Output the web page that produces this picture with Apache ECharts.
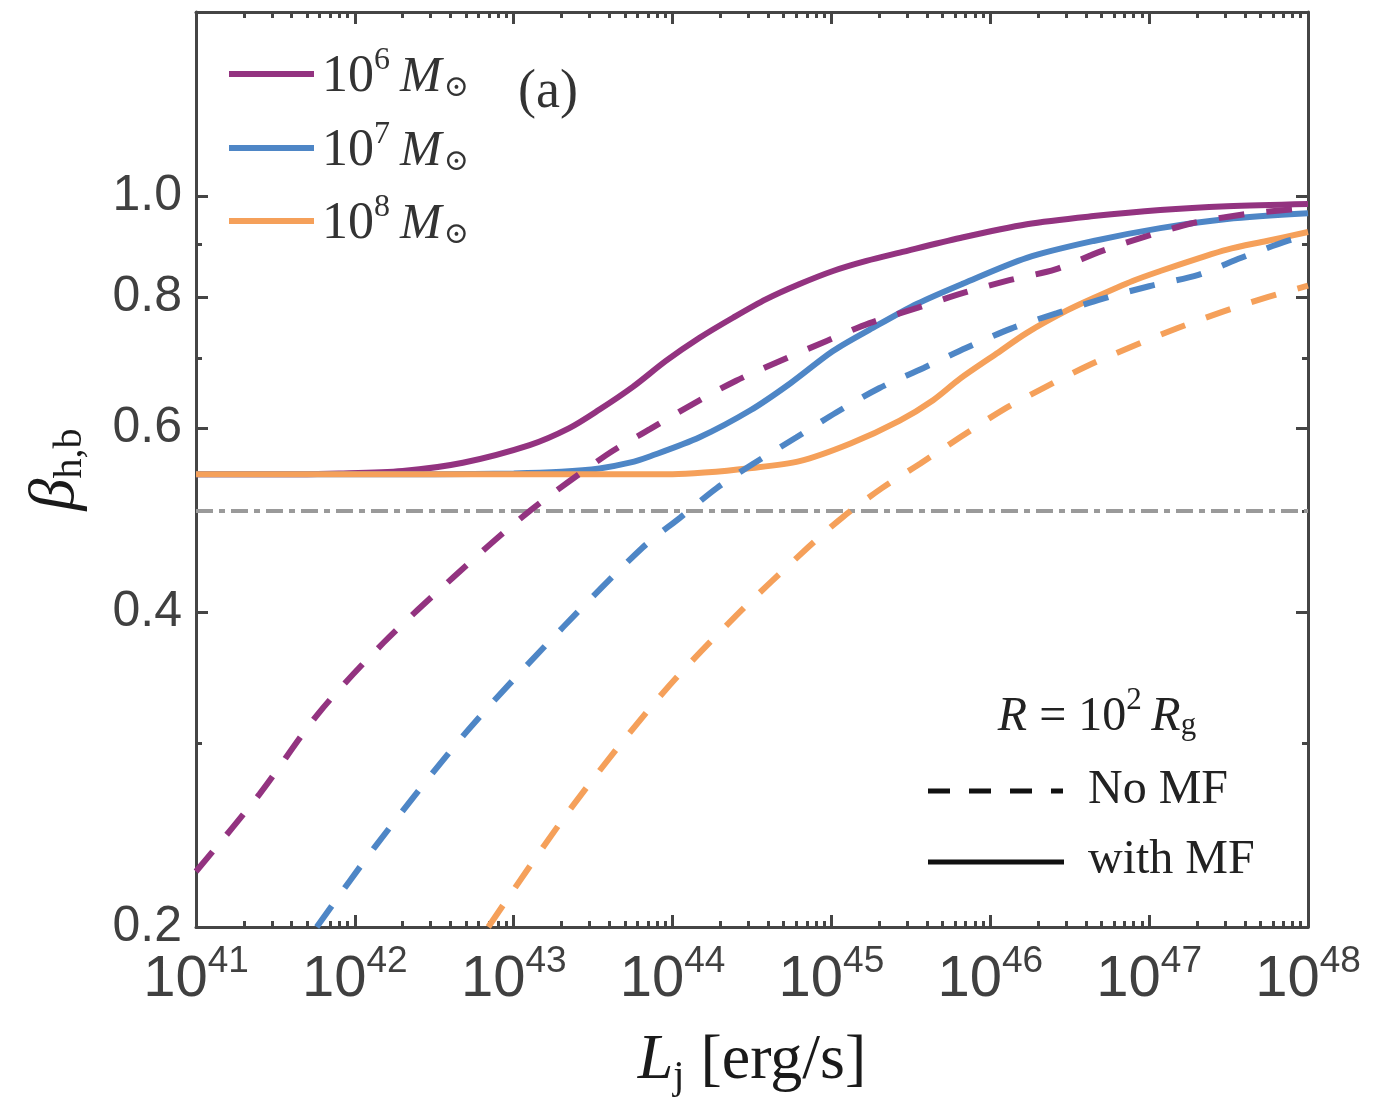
<!DOCTYPE html>
<html>
<head>
<meta charset="utf-8">
<script src="https://cdn.jsdelivr.net/npm/echarts@6/dist/echarts.min.js"></script>
<style>
  html, body { margin: 0; padding: 0; background: #fff; }
  #chart { width: 1382px; height: 1110px; }
</style>
</head>
<body>
<div id="chart"></div>
<script>
// x values are log10(L_j / erg s^-1), y values are beta_h,b
const m6SolidL = [41.0, 41.5, 41.9, 42.3, 42.68, 43.1, 43.35, 43.54, 43.75, 43.96, 44.17, 44.38, 44.59, 44.80, 45.01, 45.22, 45.43, 45.81, 46.23, 46.65, 47.07, 47.49, 48.0];
const m6SolidB = [0.542, 0.542, 0.543, 0.546, 0.556, 0.578, 0.600, 0.625, 0.657, 0.696, 0.732, 0.765, 0.797, 0.824, 0.848, 0.867, 0.883, 0.912, 0.940, 0.957, 0.970, 0.978, 0.983];

const m6DashL = [41.0, 41.40, 41.77, 42.18, 42.62, 43.08, 43.58, 43.86, 44.13, 44.40, 44.68, 44.97, 45.24, 45.54, 45.83, 46.12, 46.41, 46.70, 46.98, 47.27, 47.58, 47.89, 48.0];
const m6DashB = [0.226, 0.268, 0.320, 0.374, 0.432, 0.497, 0.565, 0.599, 0.633, 0.666, 0.696, 0.727, 0.756, 0.782, 0.808, 0.831, 0.851, 0.886, 0.915, 0.942, 0.960, 0.971, 0.974];

const m7SolidL = [41.0, 42.0, 42.5, 43.0, 43.3, 43.54, 43.73, 43.86, 44.17, 44.49, 44.74, 45.01, 45.26, 45.54, 45.83, 46.23, 46.65, 47.07, 47.49, 48.0];
const m7SolidB = [0.542, 0.542, 0.542, 0.543, 0.545, 0.549, 0.556, 0.564, 0.588, 0.624, 0.662, 0.711, 0.748, 0.789, 0.825, 0.873, 0.906, 0.932, 0.951, 0.963];

const m7DashL = [41.76, 42.13, 42.70, 43.31, 43.81, 44.05, 44.28, 44.51, 44.78, 45.03, 45.30, 45.58, 45.85, 46.13, 46.42, 46.71, 47.00, 47.31, 47.58, 47.87, 48.0];
const m7DashB = [0.200, 0.239, 0.307, 0.387, 0.461, 0.493, 0.526, 0.555, 0.588, 0.621, 0.655, 0.685, 0.716, 0.747, 0.773, 0.798, 0.820, 0.841, 0.873, 0.906, 0.916];

const m8SolidL = [41.0, 42.0, 43.0, 43.6, 44.0, 44.2, 44.47, 44.80, 45.12, 45.43, 45.64, 45.81, 46.04, 46.23, 46.48, 46.65, 46.90, 47.07, 47.32, 47.49, 47.74, 48.0];
const m8SolidB = [0.542, 0.542, 0.542, 0.542, 0.542, 0.544, 0.549, 0.558, 0.580, 0.610, 0.638, 0.669, 0.707, 0.740, 0.777, 0.799, 0.830, 0.848, 0.873, 0.889, 0.906, 0.924];

const m8DashL = [42.84, 43.37, 43.94, 44.40, 44.85, 45.07, 45.32, 45.56, 45.81, 46.09, 46.34, 46.61, 46.90, 47.18, 47.46, 47.75, 48.0];
const m8DashB = [0.200, 0.261, 0.335, 0.397, 0.461, 0.493, 0.526, 0.555, 0.588, 0.626, 0.656, 0.688, 0.719, 0.748, 0.775, 0.801, 0.821];

// horizontal reference line beta = 0.5
const refL = [41, 48];
const refB = [0.5, 0.5];

const massExponents = ['6', '7', '8'];
const xTickExponents = [41, 42, 43, 44, 45, 46, 47, 48];
const xMinorFactors = [2, 3, 4, 5, 6, 7, 8, 9];
const yTickValues = [0.2, 0.4, 0.6, 0.8, 1.0];
const yMinorValues = [0.3, 0.5, 0.7, 0.9];
const yMin = 0.2;
const yMax = 1.5;

const purple = '#933380';
const blue = '#4e86c6';
const orange = '#f5a05a';
const gray = '#9a9a9a';
const axisColor = '#454545';
const sans = '"Liberation Sans", Arial, sans-serif';
const serif = '"Liberation Serif", "DejaVu Serif", serif';

const xMinor = [];
xTickExponents.slice(0, -1).forEach(n => {
    xMinorFactors.forEach(k => xMinor.push(n + Math.log10(k)));
});
const yMajorLog = yTickValues.map(v => Math.log10(v));
const yMinorLog = yMinorValues.map(v => Math.log10(v));

function toPoints(ls, bs) {
    return ls.map((l, i) => [l, Math.log10(bs[i])]);
}

function curve(ls, bs, color, dashed, z) {
    return {
        type: 'line',
        data: toPoints(ls, bs),
        symbol: 'none',
        smooth: 0.3,
        silent: true,
        z: z,
        lineStyle: { color: color, width: 6, type: dashed ? [26, 22] : 'solid', cap: 'butt' }
    };
}

const chart = echarts.init(document.getElementById('chart'));

const tickStyle = { color: axisColor, width: 3 };
function xAxisDef(position, minor, labels) {
    const a = {
        type: 'value', min: 41, max: 48, position: position,
        axisLine: { show: !minor, onZero: false, lineStyle: { color: axisColor, width: 3 } },
        axisTick: minor
            ? { inside: true, length: 6, customValues: xMinor, lineStyle: tickStyle }
            : { inside: true, length: 12, lineStyle: tickStyle },
        splitLine: { show: false },
        axisLabel: { show: false }
    };
    if (!minor) a.interval = 1;
    if (labels) {
        a.axisLabel = {
            show: true, margin: 16,
            formatter: v => '{b|10}{s|' + v + '}',
            rich: {
                b: { fontFamily: sans, fontSize: 58, color: '#404040', lineHeight: 66, verticalAlign: 'bottom' },
                s: { fontFamily: sans, fontSize: 37, color: '#404040', lineHeight: 40, verticalAlign: 'top' }
            }
        };
        a.name = '{l|L}{j|j}{r| [erg/s]}';
        a.nameLocation = 'middle';
        a.nameGap = 102;
        a.nameTextStyle = {
            rich: {
                l: { fontFamily: serif, fontStyle: 'italic', fontSize: 64, color: '#1a1a1a', lineHeight: 68, verticalAlign: 'top' },
                j: { fontFamily: serif, fontSize: 40, color: '#1a1a1a', lineHeight: 42, verticalAlign: 'bottom' },
                r: { fontFamily: serif, fontSize: 64, color: '#1a1a1a', lineHeight: 68, verticalAlign: 'top' }
            }
        };
    }
    return a;
}

function yAxisDef(position, minor, labels) {
    const a = {
        type: 'value', min: Math.log10(yMin), max: Math.log10(yMax), position: position,
        axisLine: { show: !minor, onZero: false, lineStyle: { color: axisColor, width: 3 } },
        axisTick: { inside: true, length: minor ? 6 : 12, customValues: minor ? yMinorLog : yMajorLog, lineStyle: tickStyle },
        splitLine: { show: false },
        axisLabel: { show: false }
    };
    if (labels) {
        a.axisLabel = {
            show: true, margin: 14, customValues: yMajorLog,
            formatter: v => Math.pow(10, v).toFixed(1),
            fontFamily: sans, fontSize: 50, color: '#404040'
        };
        a.name = '{b|β}{s|h,b}';
        a.nameLocation = 'middle';
        a.nameGap = 106;
        a.nameTextStyle = {
            rich: {
                b: { fontFamily: serif, fontStyle: 'italic', fontSize: 64, color: '#1a1a1a', lineHeight: 66, verticalAlign: 'top' },
                s: { fontFamily: serif, fontSize: 40, color: '#1a1a1a', lineHeight: 42, verticalAlign: 'bottom' }
            }
        };
    }
    return a;
}

function massLegend(y, color, exp) {
    return [
        { type: 'line', shape: { x1: 229, y1: y, x2: 314, y2: y }, style: { stroke: color, lineWidth: 6 } },
        {
            type: 'text', x: 322, y: y,
            style: {
                text: '{n|10}{p|' + exp + '}{m|\u2009M}{o|⊙}',
                verticalAlign: 'middle',
                rich: {
                    n: { fontFamily: serif, fontSize: 52, fill: '#333', lineHeight: 58, verticalAlign: 'bottom' },
                    p: { fontFamily: serif, fontSize: 32, fill: '#333', lineHeight: 34, verticalAlign: 'top' },
                    m: { fontFamily: serif, fontStyle: 'italic', fontSize: 50, fill: '#333', lineHeight: 58, verticalAlign: 'bottom' },
                    o: { fontFamily: serif, fontSize: 30, fill: '#333', lineHeight: 30, verticalAlign: 'bottom', padding: [0, 0, 0, 2] }
                }
            }
        }
    ];
}

const graphic = [].concat(
    massLegend(74, purple, massExponents[0]),
    massLegend(148, blue, massExponents[1]),
    massLegend(221, orange, massExponents[2]),
    [
        { type: 'text', x: 548, y: 93, style: { text: '(a)', font: '54px ' + serif, fill: '#333', align: 'center', verticalAlign: 'middle' } },
        {
            type: 'text', x: 1097, y: 713,
            style: {
                text: '{i|R}{t| = 10}{p|2}{i|\u2009R}{g|g}',
                align: 'center', verticalAlign: 'middle',
                rich: {
                    i: { fontFamily: serif, fontStyle: 'italic', fontSize: 48, fill: '#222', lineHeight: 56, verticalAlign: 'bottom' },
                    t: { fontFamily: serif, fontSize: 48, fill: '#222', lineHeight: 56, verticalAlign: 'bottom' },
                    p: { fontFamily: serif, fontSize: 31, fill: '#222', lineHeight: 33, verticalAlign: 'top' },
                    g: { fontFamily: serif, fontSize: 31, fill: '#222', lineHeight: 31, verticalAlign: 'bottom' }
                }
            }
        },
        { type: 'line', shape: { x1: 928, y1: 791, x2: 1063, y2: 791 }, style: { stroke: '#111', lineWidth: 5, lineDash: [22, 19] } },
        { type: 'text', x: 1088, y: 790, style: { text: 'No MF', font: '48px ' + serif, fill: '#222', verticalAlign: 'middle' } },
        { type: 'line', shape: { x1: 928, y1: 862, x2: 1064, y2: 862 }, style: { stroke: '#111', lineWidth: 5 } },
        { type: 'text', x: 1088, y: 860, style: { text: 'with MF', font: '48px ' + serif, fill: '#222', verticalAlign: 'middle' } }
    ]
);

const option = {
    animation: false,
    backgroundColor: '#fff',
    grid: { left: 196, right: 74, top: 12, bottom: 183, containLabel: false },
    xAxis: [
        xAxisDef('bottom', false, true),
        xAxisDef('bottom', true, false),
        xAxisDef('top', false, false),
        xAxisDef('top', true, false)
    ],
    yAxis: [
        yAxisDef('left', false, true),
        yAxisDef('left', true, false),
        yAxisDef('right', false, false),
        yAxisDef('right', true, false)
    ],
    graphic: graphic,
    series: [
        {
            type: 'line', data: toPoints(refL, refB), symbol: 'none', silent: true, z: 1,
            lineStyle: { color: gray, width: 4, type: [17, 6, 6, 6] }
        },
        curve(m6SolidL, m6SolidB, purple, false, 2),
        curve(m7SolidL, m7SolidB, blue, false, 3),
        curve(m8SolidL, m8SolidB, orange, false, 4),
        curve(m6DashL, m6DashB, purple, true, 5),
        curve(m7DashL, m7DashB, blue, true, 6),
        curve(m8DashL, m8DashB, orange, true, 7)
    ]
};

chart.setOption(option);
</script>
</body>
</html>
